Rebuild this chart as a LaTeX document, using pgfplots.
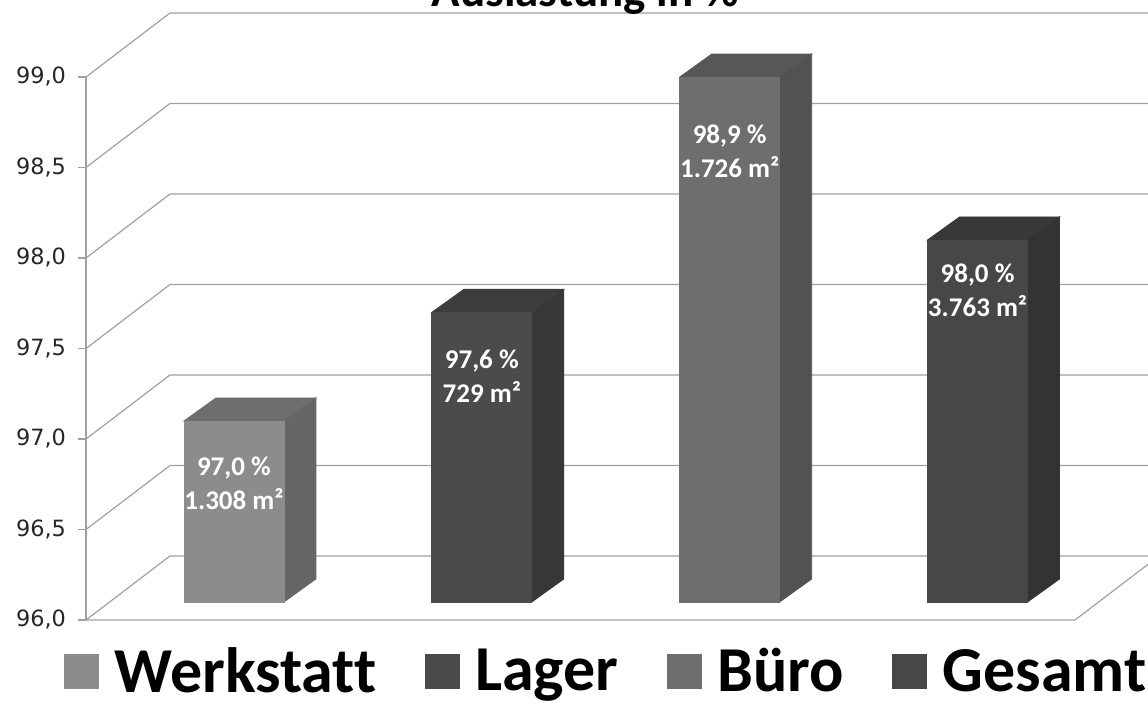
\documentclass[border=0pt]{standalone}
\usepackage{fontspec}
\setmainfont{Carlito}[Ligatures=NoCommon]
\newfontfamily\dejavu{DejaVu Sans}
\usepackage{pgfplots}
\pgfplotsset{compat=1.18}
\pgfdeclareplotmark{empty}{}
\definecolor{gridc}{HTML}{A0A0A0}
\definecolor{wfront}{HTML}{8C8C8C}
\definecolor{wtop}{HTML}{6E6E6E}
\definecolor{wside}{HTML}{666666}
\definecolor{lfront}{HTML}{4B4B4B}
\definecolor{ltop}{HTML}{3C3C3C}
\definecolor{lside}{HTML}{383838}
\definecolor{bfront}{HTML}{6E6E6E}
\definecolor{btop}{HTML}{575757}
\definecolor{bside}{HTML}{525252}
\definecolor{gfront}{HTML}{474747}
\definecolor{gtop}{HTML}{383838}
\definecolor{gside}{HTML}{333333}
\pgfplotsset{
  barbox/.style n args={6}{
    scatter, only marks, mark=empty,
    visualization depends on={rawy \as \rawy},
    scatter/@pre marker code/.code={%
      \pgfmathsetmacro\hh{(\rawy-96)*90.5}%
      \fill[#2] (-13pt,9pt) -- (3pt,20.5pt) -- (53pt,20.5pt) -- (37pt,9pt) -- cycle;
      \fill[#3] (37pt,9pt) -- (53pt,20.5pt) -- (53pt,20.5pt-\hh pt) -- (37pt,9pt-\hh pt) -- cycle;
      \fill[#1] (-13pt,9pt-\hh pt) rectangle (37pt,9pt);
      \node[text=white, font=\bfseries\fontsize{13.5}{17}\selectfont, align=center] at (12pt,9pt-#6) {#4\\#5};
    },
    scatter/@post marker code/.code={},
    legend image code/.code={\fill[#1] (0pt,-8.5pt) rectangle (17pt,8.5pt); \path (23pt,0pt);},
  },
}
\begin{document}
\begin{tikzpicture}
\begin{axis}[
  at={(0,0)}, anchor=south west,
  scale only axis, width=494.5pt, height=271.5pt,
  xmin=-0.5, xmax=3.49, ymin=96, ymax=99,
  enlargelimits=false, clip=false,
  axis x line=none, axis y line*=left,
  axis line style={gridc, line width=0.6pt},
  ytick={96,96.5,97,97.5,98,98.5,99},
  ytick style={gridc, line width=0.6pt},
  tick align=outside, major tick length=4pt,
  yticklabel style={font=\dejavu\fontsize{11.2}{13}\selectfont, text=black!85, xshift=-2.5pt,
    /pgf/number format/.cd, fixed, fixed zerofill, precision=1, use comma, assume math mode=true},
  legend style={at={(0.527,-0.095)}, anchor=center, draw=none, fill=none,
    font=\bfseries\fontsize{32}{36}\selectfont, nodes={inner ysep=0pt},
    /tikz/every even column/.append style={column sep=22pt}},
  legend columns=-1,
]
\pgfplotsinvokeforeach{96,96.5,97,97.5,98,98.5,99}{
  \draw[gridc, line width=0.6pt] (axis cs:-0.5,#1) -- ++(42pt,32pt) -- ++(520pt,0pt);
}
\draw[gridc, line width=0.6pt] (axis cs:-0.5,96) -- (axis cs:3.49,96) -- ++(42pt,32pt);
\addplot[barbox={wfront}{wtop}{wside}{97,0 \%}{1.308 m²}{31pt}] coordinates {(0,97.0)};
\addlegendentry{Werkstatt}
\addplot[barbox={lfront}{ltop}{lside}{97,6 \%}{729 m²}{32pt}] coordinates {(1,97.6)};
\addlegendentry{Lager}
\addplot[barbox={bfront}{btop}{bside}{98,9 \%}{1.726 m²}{37pt}] coordinates {(2,98.9)};
\addlegendentry{Büro}
\addplot[barbox={gfront}{gtop}{gside}{98,0 \%}{3.763 m²}{25pt}] coordinates {(3,98.0)};
\addlegendentry{Gesamt}
\end{axis}
\node[font=\bfseries\fontsize{23.5}{28}\selectfont, anchor=base] at (249.5pt,306.5pt) {Auslastung in \%};
\pgfresetboundingbox
\useasboundingbox (-43pt,-42.5pt) rectangle (531pt,310pt);
\end{tikzpicture}
\end{document}
